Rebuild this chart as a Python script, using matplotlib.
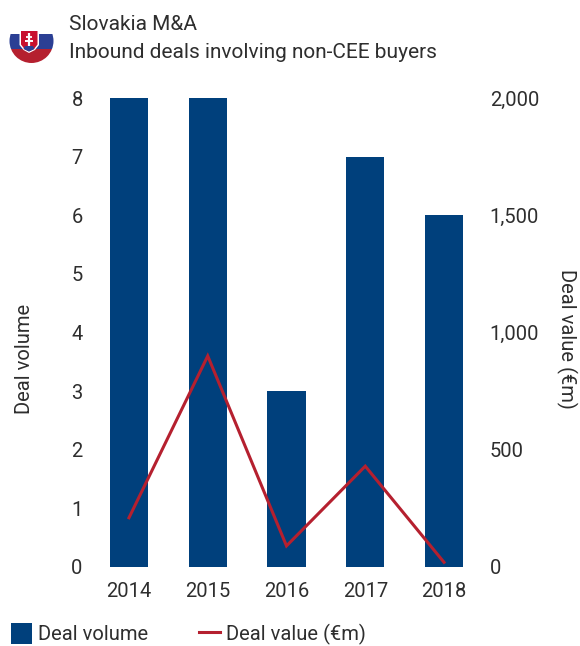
import matplotlib
matplotlib.use('Agg')
import matplotlib.pyplot as plt
from matplotlib.patches import Circle, Rectangle, Polygon

years = ['2014', '2015', '2016', '2017', '2018']
deal_volume = [8, 8, 3, 7, 6]
deal_value = [210, 900, 90, 430, 20]
left_ticks = [0, 1, 2, 3, 4, 5, 6, 7, 8]
right_ticks = [0, 500, 1000, 1500, 2000]

BLUE = '#00407c'
RED = '#b5202f'
TEXT = '#2e2e2e'
W, H = 580, 646
FS = 14.5

plt.rcParams['font.family'] = ['Roboto', 'DejaVu Sans']
plt.rcParams['font.size'] = FS
plt.rcParams['text.color'] = TEXT

fig = plt.figure(figsize=(W / 100, H / 100), dpi=100)
ax = fig.add_axes([89.6 / W, 1 - 567 / H, 393.8 / W, 469 / H])

x = list(range(len(years)))
bars = ax.bar(x, deal_volume, width=0.483, color=BLUE, label='Deal volume')
ax.set_xlim(-0.5, 4.5)
ax.set_ylim(0, 8)
ax.set_xticks(x)
ax.set_xticklabels(years)
ax.set_yticks(left_ticks)
ax.tick_params(axis='both', length=0, labelcolor=TEXT, labelsize=FS)
ax.tick_params(axis='x', pad=10.5)
ax.tick_params(axis='y', pad=5)
ax.set_ylabel('Deal volume', fontsize=FS, color=TEXT, va='center')
ax.yaxis.set_label_coords((24 - 89.6) / 393.8, (567 - 359) / 469)

ax2 = ax.twinx()
line, = ax2.plot(x, deal_value, color=RED, linewidth=2.2, label='Deal value (€m)',
                 solid_joinstyle='miter')
ax2.set_ylim(0, 2000)
ax2.set_yticks(right_ticks)
ax2.set_yticklabels(['{:,}'.format(t) for t in right_ticks])
ax2.tick_params(axis='y', length=0, labelcolor=TEXT, labelsize=FS, pad=4.5)
ax2.set_ylabel('Deal value (€m)', rotation=270, fontsize=FS, color=TEXT, va='center')
ax2.yaxis.set_label_coords((567 - 89.6) / 393.8, (567 - 339) / 469)

for spine in list(ax.spines.values()) + list(ax2.spines.values()):
    spine.set_visible(False)

fig.legend([bars, line], ['Deal volume', 'Deal value (€m)'], loc='lower left',
           bbox_to_anchor=(11 / W, 1 - 645 / H), ncol=2, frameon=False, fontsize=FS,
           borderpad=0, borderaxespad=0, handlelength=1.045, handleheight=1.23,
           handletextpad=0.3, columnspacing=2.5, labelcolor=TEXT)

# title block and flag badge, laid out in pixels
over = fig.add_axes([0, 0, 1, 1])
over.set_xlim(0, W)
over.set_ylim(H, 0)
over.axis('off')
over.patch.set_alpha(0)

over.text(69, 24, 'Slovakia M&A', fontsize=15, va='center', ha='left')
over.text(69, 53, 'Inbound deals involving non-CEE buyers', fontsize=15, va='center', ha='left')

clip = Circle((31.5, 41), 22, transform=over.transData)
top = Rectangle((9, 34), 45, 15, color='#2b3f94', linewidth=0)
bottom = Rectangle((9, 49), 45, 16, color=RED, linewidth=0)
for p in (top, bottom):
    over.add_patch(p)
    p.set_clip_path(clip)

shield_out = [(19.5, 30), (39, 30), (39, 45), (35, 50), (29, 53), (23.5, 50), (19.5, 45)]
shield_in = [(21, 31), (37.5, 31), (37.5, 44.5), (34, 49), (29, 51.5), (24.5, 49), (21, 44.5)]
over.add_patch(Polygon(shield_out, closed=True, color='white', linewidth=0))
over.add_patch(Polygon(shield_in, closed=True, color='#c8102e', linewidth=0))
over.add_patch(Polygon([(23.5, 49), (25, 46), (33, 46), (34.5, 49), (29, 51.5)], closed=True,
                       color='#2b3f94', linewidth=0))
over.plot([29, 29], [33, 46], color='white', linewidth=1.6, solid_capstyle='butt')
over.plot([26, 32], [37, 37], color='white', linewidth=1.3, solid_capstyle='butt')
over.plot([25, 33], [41, 41], color='white', linewidth=1.4, solid_capstyle='butt')

fig.savefig('out.png', dpi=100)
